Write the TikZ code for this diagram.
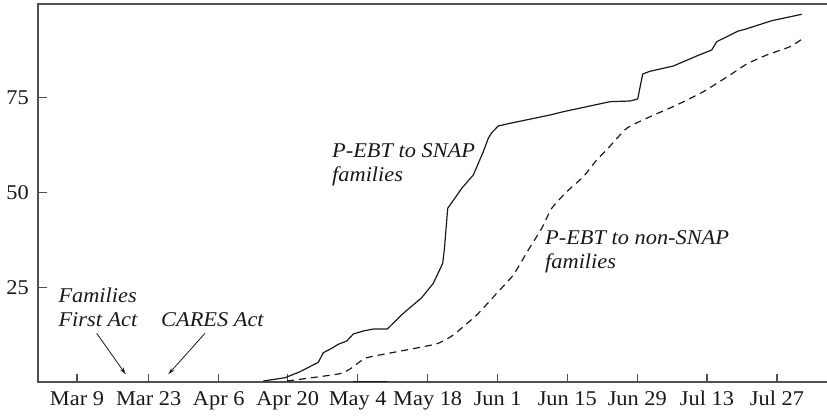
\documentclass[tikz,border=0pt]{standalone}
\usepackage{fontspec}
\setmainfont{Liberation Serif}[FakeStretch=1.065]
\usetikzlibrary{arrows.meta}
\definecolor{axisgray}{HTML}{505050}
\definecolor{curveblack}{HTML}{1A1A1A}
\tikzset{
  axisline/.style={line width=1.7pt, color=axisgray},
  tickline/.style={line width=1.3pt, color=axisgray},
  ticklabel/.style={font=\fontsize{21}{24}\selectfont, inner sep=0pt, text=black!90},
  curvelabel/.style={font=\fontsize{21}{24}\selectfont\itshape, inner sep=0pt, align=left, anchor=base west, text=black!90},
  solidcurve/.style={line width=1.2pt, color=curveblack, line join=round},
  dashcurve/.style={line width=1.2pt, color=curveblack, dash pattern=on 7pt off 5pt},
  pointer/.style={line width=0.8pt, color=curveblack, -{Stealth[length=7pt,width=4pt]}}
}
\begin{document}
\begin{tikzpicture}[x=1pt,y=-1pt]
\useasboundingbox (0,0) rectangle (827,415);
% frame
\draw[axisline] (827,4) -- (37.7,4) -- (37.7,381.7) -- (827,381.7);
% y ticks
\foreach \v/\yy in {75/97.3,50/192.7,25/287.7}{
  \draw[tickline] (37.7,\yy) -- (46.7,\yy);
  \node[ticklabel, anchor=east] (y\v) at (29,\yy) {\v};
}
% x ticks
\foreach \lab/\xx [count=\i] in {Mar 9/77,Mar 23/148.7,Apr 6/218.7,Apr 20/287.7,May 4/357.7,May 18/427.7,Jun 1/497.7,Jun 15/567.3,Jun 29/637.3,Jul 13/707,Jul 27/777}{
  \draw[tickline] (\xx,381.7) -- (\xx,373.5);
  \node[ticklabel, anchor=base] (x\i) at (\xx,405) {\lab};
}
% short series lying on the axis
\draw[solidcurve] (353,381.2) -- (387,381.2);
% solid curve
\draw[solidcurve] plot coordinates {(263.3,381) (285,377.7) (300,371.7) (318.3,362.3) (323.3,352.7) (331.7,348.3) (338.3,344.3) (346.7,341) (353.3,334) (363.3,331) (373.3,329) (387.3,329) (403.3,313.3) (421.7,297.7) (433.3,283.3) (442.7,263.3) (444.3,250) (447.7,208.3) (458.3,193.3) (461.7,188.3) (473.3,175) (478.3,163.3) (483.3,151.7) (488.3,138.3) (491.7,132.7) (498.3,126) (510,123.3) (550,115) (563.3,111.7) (610,101.7) (630,101) (637.7,99) (642.7,74) (650,71.3) (673.3,66) (696.7,56) (711.7,50) (716.7,41.7) (738.3,31) (745,29.3) (771.7,20.7) (778.3,19.3) (801.7,14.3)};
% dashed curve
\draw[dashcurve] plot[smooth, tension=0.3] coordinates {(287,381) (338.3,374) (350,369) (365,358.3) (383.3,354.3) (410,349.3) (435,344.3) (441.7,341.7) (453.3,335) (476.7,315) (496.7,293.3) (513.3,275) (528.3,250) (541.7,228.3) (551.7,208.3) (566.7,191.7) (583.3,176.7) (596.7,160) (608.3,148) (626.7,128.3) (650,116.7) (676.7,105) (703.3,91.7) (730,75) (746.7,64) (766.7,55) (790,46.7) (801.7,39.3)};
% labels (anchor = baseline of last line)
\node[curvelabel] (snap) at (332,181) {P-EBT to SNAP\\families};
\node[curvelabel] (nonsnap) at (545,268.5) {P-EBT to non-SNAP\\families};
\node[curvelabel] (ffa) at (58.3,326.7) {Families\\First Act};
\node[curvelabel] (cares) at (161,326.7) {CARES Act};
% arrows
\coordinate (ffaS) at (96.7,333.3);
\coordinate (ffaE) at (125.7,374.3);
\coordinate (caresS) at (205,333.3);
\coordinate (caresE) at (168.3,374.3);
\draw[pointer] (ffaS) -- (ffaE);
\draw[pointer] (caresS) -- (caresE);
\end{tikzpicture}
\end{document}
